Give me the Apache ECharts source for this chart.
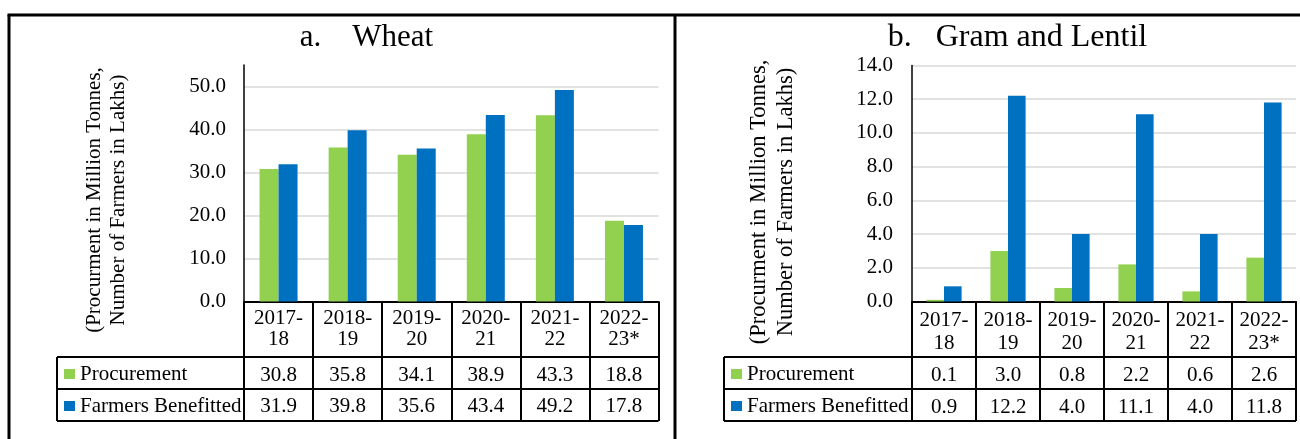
<!DOCTYPE html>
<html>
<head>
<meta charset="utf-8">
<title>Procurement</title>
<script src="https://cdn.jsdelivr.net/npm/echarts@6/dist/echarts.min.js"></script>
<style>
    html, body { margin: 0; padding: 0; background: #fff; }
    #main { width: 1300px; height: 439px; }
</style>
</head>
<body>
<div id="main"></div>
<script type="text/javascript">
    // data
    var categories = ['2017-18', '2018-19', '2019-20', '2020-21', '2021-22', '2022-23*'];
    var seriesNames = ['Procurement', 'Farmers Benefitted'];
    var wheatProcurement = [30.8, 35.8, 34.1, 38.9, 43.3, 18.8];
    var wheatFarmers = [31.9, 39.8, 35.6, 43.4, 49.2, 17.8];
    var gramProcurement = [0.1, 3.0, 0.8, 2.2, 0.6, 2.6];
    var gramFarmers = [0.9, 12.2, 4.0, 11.1, 4.0, 11.8];
    var wheatTicks = {min: 0, max: 55, interval: 10};
    var gramTicks = {min: 0, max: 14, interval: 2};

    var serif = '"Times New Roman", "Liberation Serif", serif';
    var green = '#92D050', blue = '#0070C0';
    var yTitle = '(Procurment in Million Tonnes,\nNumber of Farmers in Lakhs)';

    // layout of the two panels
    var A = {left: 244, right: 658.5, top: 65, axisY: 301.5, legendLeft: 57, headLine: 21, marginX: 6.5, spacer: 9.5};
    var B = {left: 912, right: 1296, top: 65.4, axisY: 301.5, legendLeft: 724, headLine: 23, marginX: 7, spacer: 5.5};
    var rowLines = [357, 389, 421];

    function headerText(p, q, i) {
        var parts = categories[i].split('-');
        return '{h|' + parts[0] + '-}\n{h|' + parts[1] + '}\n{s| }\n{v|' +
            p[i].toFixed(1) + '}\n{v|' + q[i].toFixed(1) + '}';
    }

    function xAxisFor(idx, P, p, q) {
        return {
            type: 'category', gridIndex: idx, data: categories,
            axisLine: {lineStyle: {color: '#000', width: 2}},
            axisTick: {show: true, interval: 0, length: rowLines[2] - P.axisY, lineStyle: {color: '#000', width: 2}},
            axisLabel: {
                interval: 0, margin: P.marginX, color: '#000',
                formatter: function (v, i) { return headerText(p, q, i); },
                rich: {
                    h: {fontFamily: serif, fontSize: 21, lineHeight: P.headLine, color: '#000'},
                    s: {fontSize: 1, lineHeight: P.spacer},
                    v: {fontFamily: serif, fontSize: 21, lineHeight: 31.5, color: '#000'}
                }
            },
            splitLine: {show: false}
        };
    }

    function yAxisFor(idx, t, margin, hideMax) {
        return {
            type: 'value', gridIndex: idx, min: t.min, max: t.max, interval: t.interval,
            axisLine: {show: true, lineStyle: {color: '#000', width: 1.5}},
            axisTick: {show: false},
            axisLabel: {
                margin: margin, color: '#000', fontFamily: serif, fontSize: 21,
                padding: [5, 0, 0, 0], showMaxLabel: !hideMax,
                formatter: function (v) { return v.toFixed(1); }
            },
            splitLine: {show: true, showMaxLine: !hideMax, lineStyle: {color: '#D9D9D9', width: 1.5}}
        };
    }

    function legendFor(x) {
        return {
            orient: 'vertical', left: x, top: 363.5, padding: 0, itemGap: 11,
            icon: 'rect', itemWidth: 11, itemHeight: 10, selectedMode: false,
            textStyle: {fontFamily: serif, fontSize: 21, lineHeight: 21, color: '#000'},
            data: seriesNames
        };
    }

    function bar(name, data, idx, color) {
        return {
            name: name, type: 'bar', xAxisIndex: idx, yAxisIndex: idx, data: data,
            barGap: '0%', barCategoryGap: '45%', itemStyle: {color: color}
        };
    }

    function line(x1, y1, x2, y2, w) {
        return {type: 'line', silent: true, shape: {x1: x1, y1: y1, x2: x2, y2: y2},
            style: {stroke: '#000', lineWidth: w || 2}};
    }

    var graphics = [
        // frame
        line(7.5, 15, 1300, 15, 3), line(9, 15, 9, 439, 3),
        line(675, 15, 675, 439, 3),
        // titles
        {type: 'text', x: 366.5, y: 37.5, style: {text: 'a.    Wheat', font: '31px ' + serif, fill: '#000', align: 'center', verticalAlign: 'middle'}},
        {type: 'text', x: 1017.5, y: 37.5, style: {text: 'b.   Gram and Lentil', font: '32px ' + serif, fill: '#000', align: 'center', verticalAlign: 'middle'}},
        // y axis titles
        {type: 'text', x: 106, y: 200, rotation: Math.PI / 2, style: {text: yTitle, font: '21px ' + serif, lineHeight: 24, fill: '#000', align: 'center', verticalAlign: 'middle'}},
        {type: 'text', x: 773, y: 202, rotation: Math.PI / 2, style: {text: yTitle, font: '22.5px ' + serif, lineHeight: 27, fill: '#000', align: 'center', verticalAlign: 'middle'}}
    ];
    [A, B].forEach(function (P) {
        rowLines.forEach(function (y) { graphics.push(line(P.legendLeft, y, P.right, y)); });
        graphics.push(line(P.legendLeft, rowLines[0], P.legendLeft, rowLines[2]));
    });

    var myChart = echarts.init(document.getElementById('main'), null, {renderer: 'canvas'});
    myChart.setOption({
        animation: false,
        backgroundColor: '#fff',
        grid: [
            {left: A.left, right: 1300 - A.right, top: A.top, bottom: 439 - A.axisY},
            {left: B.left, right: 1300 - B.right, top: B.top, bottom: 439 - B.axisY}
        ],
        xAxis: [xAxisFor(0, A, wheatProcurement, wheatFarmers), xAxisFor(1, B, gramProcurement, gramFarmers)],
        yAxis: [yAxisFor(0, wheatTicks, 18, true), yAxisFor(1, gramTicks, 19, false)],
        legend: [legendFor(64), legendFor(731)],
        series: [
            bar(seriesNames[0], wheatProcurement, 0, green),
            bar(seriesNames[1], wheatFarmers, 0, blue),
            bar(seriesNames[0], gramProcurement, 1, green),
            bar(seriesNames[1], gramFarmers, 1, blue)
        ],
        graphic: graphics
    });
</script>
</body>
</html>
